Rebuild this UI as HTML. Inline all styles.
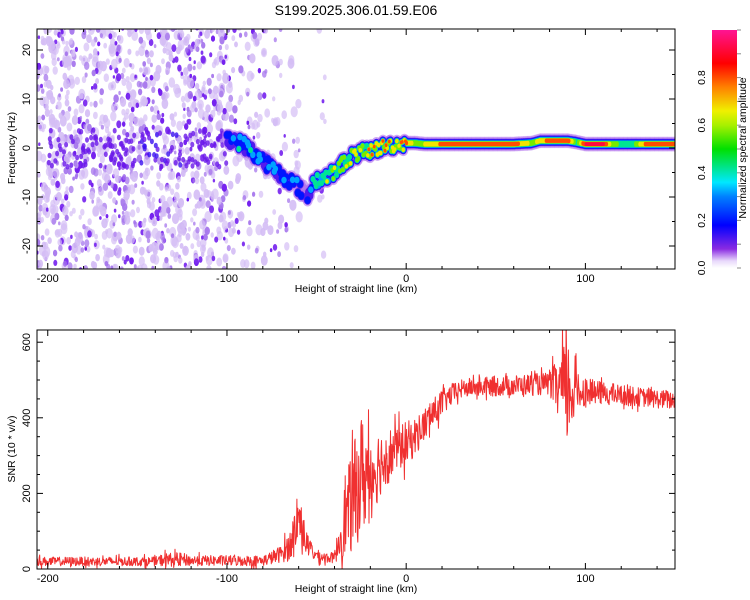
<!DOCTYPE html>
<html><head><meta charset="utf-8">
<style>
body{margin:0;background:#fff;width:750px;height:600px;overflow:hidden;font-family:"Liberation Sans",sans-serif}
svg{position:absolute;left:0;top:0}
text{font-family:"Liberation Sans",sans-serif;fill:#000}
</style></head>
<body>
<svg id="chart" width="750" height="600">
<defs>
<linearGradient id="cbgrad" x1="0" y1="1" x2="0" y2="0">
<stop offset="0" stop-color="#ffffff"/>
<stop offset="0.03" stop-color="#e8d8fb"/>
<stop offset="0.08" stop-color="#8a2be2"/>
<stop offset="0.18" stop-color="#0000ff"/>
<stop offset="0.3" stop-color="#0080ff"/>
<stop offset="0.36" stop-color="#00e8ff"/>
<stop offset="0.5" stop-color="#00e000"/>
<stop offset="0.6" stop-color="#a8f000"/>
<stop offset="0.66" stop-color="#f0f000"/>
<stop offset="0.76" stop-color="#ff8000"/>
<stop offset="0.86" stop-color="#ff0000"/>
<stop offset="1" stop-color="#ff1493"/>
</linearGradient>
<clipPath id="clipTop"><rect x="37" y="29" width="638" height="240"/></clipPath>
<clipPath id="clipBot"><rect x="37" y="330" width="638" height="239"/></clipPath>
</defs>
<text x="356" y="15" text-anchor="middle" font-size="14">S199.2025.306.01.59.E06</text>
<g id="topMarks" clip-path="url(#clipTop)"></g>
<g id="botMarks" clip-path="url(#clipBot)"></g>
<g id="axes"></g>
<rect x="712" y="30" width="25" height="238" fill="url(#cbgrad)"/>
</svg>
<script>
// ---- data ----
const ridgeKm  = [-100,-95,-90,-85,-80,-75,-70,-65,-60,-55,-52,-50,-45,-40,-35,-30,-25,-20,-15,-10,-5,0,5,10,20,30,40,50,60,70,75,80,90,95,100,110,115,125,135,150];
const ridgeHz  = [2,1.5,0.5,-1,-2.5,-4,-5.5,-6.5,-8,-10,-7,-6.5,-6,-5,-3,-1.5,-1,-0.5,0,0.5,0.7,1,1,0.8,0.8,0.8,0.8,0.8,0.8,1,1.5,1.5,1.5,1.2,0.8,0.8,0.8,0.8,0.8,0.8];
const ridgeAmp = [0.22,0.3,0.25,0.32,0.22,0.25,0.22,0.22,0.18,0.15,0.3,0.45,0.5,0.55,0.5,0.65,0.55,0.7,0.75,0.7,0.65,0.8,0.6,0.65,0.8,0.85,0.9,0.85,0.85,0.6,0.7,0.85,0.85,0.5,0.9,0.9,0.6,0.45,0.85,0.9];
const snrKm    = [-205,-140,-135,-125,-120,-80,-75,-70,-65,-60,-55,-50,-45,-40,-35,-30,-25,-20,-15,-10,-5,0,5,10,15,20,25,30,35,80,85,90,95,100,110,120,130,140,150];
const snrMean  = [20,20,25,25,22,22,30,40,60,140,60,35,30,30,120,180,250,250,280,300,320,330,350,380,410,440,460,475,480,490,480,470,470,470,465,460,455,450,445];
const snrNoise = [12,12,18,18,14,14,18,22,40,60,30,16,14,14,90,140,160,130,90,75,60,60,50,45,40,35,30,25,25,30,80,150,60,35,30,28,25,25,25];
const xTicks = [-200,-100,0,100];
const hzTicks = [-20,-10,0,10,20];
const snrTicks = [0,200,400,600];
const cbTicks = [0,0.2,0.4,0.6,0.8];

// ---- scales ----
const X0=37,X1=675,KM0=-206,KM1=150;
const xs = km => X0+(km-KM0)*(X1-X0)/(KM1-KM0);
const yHz = hz => 148 - hz*4.9;
const ySnr = v => 569 - v*0.378;
const yCb = v => 268 - v*238;
const NS='http://www.w3.org/2000/svg';
function mk(tag,attrs,parent){const e=document.createElementNS(NS,tag);for(const k in attrs)e.setAttribute(k,attrs[k]);parent.appendChild(e);return e;}
function interp(xa,ya,x){if(x<=xa[0])return ya[0];for(let i=1;i<xa.length;i++){if(x<=xa[i]){const t=(x-xa[i-1])/(xa[i]-xa[i-1]);return ya[i-1]+t*(ya[i]-ya[i-1]);}}return ya[ya.length-1];}
let seed=12345;function rnd(){seed=(seed*1103515245+12345)%2147483648;return seed/2147483648;}

const cmStops=[[0,'#ffffff'],[0.03,'#e8d8fb'],[0.08,'#8a2be2'],[0.18,'#0000ff'],[0.3,'#0080ff'],[0.36,'#00e8ff'],[0.5,'#00e000'],[0.6,'#a8f000'],[0.66,'#f0f000'],[0.76,'#ff8000'],[0.86,'#ff0000'],[1,'#ff1493']];
function hex(c){return [parseInt(c.substr(1,2),16),parseInt(c.substr(3,2),16),parseInt(c.substr(5,2),16)];}
function cmap(v){v=Math.max(0,Math.min(1,v));for(let i=1;i<cmStops.length;i++){if(v<=cmStops[i][0]){const t=(v-cmStops[i-1][0])/(cmStops[i][0]-cmStops[i-1][0]);const a=hex(cmStops[i-1][1]),b=hex(cmStops[i][1]);return 'rgb('+a.map((q,j)=>Math.round(q+t*(b[j]-q))).join(',')+')';}}return '#ff1493';}

// ---- top: background speckle ----
const topG=document.getElementById('topMarks');
const spk=mk('g',{},topG);


for(let i=0;i<6000;i++){
  const km=KM0+rnd()*(KM1-KM0);const hz=-25+rnd()*50;
  let dens;
  if(km<-100)dens=0.85; else if(km<-85)dens=0.4; else if(km<-60)dens=0.22; else if(km<-45)dens=0.06; else dens=0;
  if(rnd()>dens)continue;
  const r=rnd();let fill,op,rr;
  if(r<0.6){fill='#d4bdf5';op=0.7;rr=1.8+rnd()*2.2;}
  else if(r<0.85){fill='#a676ec';op=0.75;rr=1.4+rnd()*1.6;}
  else {fill='#7420ee';op=0.9;rr=1.3+rnd()*1.6;}
  const c=mk('ellipse',{cx:xs(km).toFixed(1),cy:yHz(hz).toFixed(1),rx:(rr*0.9).toFixed(1),ry:(rr*1.4).toFixed(1),fill:fill,'fill-opacity':op},spk);
  
  
}
for(let i=0;i<160;i++){
  const km=-200+rnd()*100;const hz=(rnd()-0.5)*8;
  const strong=km>-150&&km<-125&&rnd()<0.4;
  const c=mk('ellipse',{cx:xs(km).toFixed(1),cy:yHz(hz).toFixed(1),rx:2,ry:2.8,fill:strong?'#3a10f0':'#6a18ea','fill-opacity':0.8},spk);
  
  
}
// ---- top: ridge ----
const ridgeG=mk('g',{},topG);


const levels=[0.04,0.1,0.18,0.3,0.4,0.55,0.65,0.78,0.9];
const lvRy=[7.5,5.5,4.6,3.9,3.3,2.8,2.5,2.2,1.9];
const pts=[];
for(let km=ridgeKm[0];km<=KM1;km+=0.6){
  const steady=km>0;
  const jh=steady?0:(rnd()-0.5)*2.8;
  const ja=steady?0:(rnd()-0.5)*0.3;
  pts.push([km,interp(ridgeKm,ridgeHz,km)+jh,interp(ridgeKm,ridgeAmp,km)+ja,steady]);
}
levels.forEach((lv,li)=>{
  pts.forEach(p=>{
    if(p[2]<lv)return;
    const ry=p[3]?lvRy[li]:lvRy[li]*0.85;
    const rx=p[3]?1.6:Math.max(1.5,ry*0.8);
    const e=mk('ellipse',{cx:xs(p[0]).toFixed(1),cy:yHz(p[1]).toFixed(1),rx:rx.toFixed(1),ry:ry.toFixed(1),fill:cmap(lv+0.02),'fill-opacity':li===0?0.6:1},ridgeG);
    
    
  });
});

// ---- bottom: SNR line ----
const botG=document.getElementById('botMarks');
let dPath='';
for(let km=KM0,i=0;km<=KM1;km+=0.25,i++){
  const m=interp(snrKm,snrMean,km),n=interp(snrKm,snrNoise,km);
  const v=Math.max(0,m+(rnd()*2-1)*n*(rnd()<0.1?1.6:1));
  dPath+=(i?'L':'M')+xs(km).toFixed(1)+' '+ySnr(v).toFixed(1);
}
const snrLine=mk('path',{d:dPath,fill:'none',stroke:'#f03030','stroke-width':1,'stroke-linejoin':'round'},botG);



// ---- axes ----
const axG=document.getElementById('axes');
function frame(y0,y1,name){
  const r=mk('rect',{x:X0,y:y0,width:X1-X0,height:y1-y0,fill:'none',stroke:'#000','stroke-width':1},axG);
  
  
}
frame(29,269,'top-plot-frame');frame(330,569,'bottom-plot-frame');
function xAxis(y0,y1,labelY,name){
  for(let km=-200;km<=KM1;km+=20){
    const x=xs(km),maj=km%100===0,L=maj?6:3;
    mk('line',{x1:x,y1:y1,x2:x,y2:y1-L,stroke:'#000'},axG);
    mk('line',{x1:x,y1:y0,x2:x,y2:y0+L,stroke:'#000'},axG);
  }
  xTicks.forEach(t=>{const tx=mk('text',{x:xs(t),y:y1+13,'text-anchor':'middle','font-size':11},axG);tx.textContent=t;
    
    });
  const lb=mk('text',{x:356,y:labelY,'text-anchor':'middle','font-size':10.5},axG);lb.textContent='Height of straight line (km)';
  
  
}
xAxis(29,269,292,'top-x-axis-title');xAxis(330,569,592,'bottom-x-axis-title');
function yAxis(minor,min,max,f,ticks,name,title,ty){
  for(let v=min;v<=max;v+=minor){const y=f(v),maj=ticks.includes(v),L=maj?6:3;
    mk('line',{x1:X0,y1:y,x2:X0+L,y2:y,stroke:'#000'},axG);mk('line',{x1:X1,y1:y,x2:X1-L,y2:y,stroke:'#000'},axG);}
  ticks.forEach(t=>{const y=f(t);const tx=mk('text',{x:0,y:0,'text-anchor':'middle','font-size':11,transform:'translate(30,'+y+') rotate(-90)'},axG);tx.textContent=t;
    
    });
  const lb=mk('text',{x:0,y:0,'text-anchor':'middle','font-size':10.5,transform:'translate(15,'+ty+') rotate(-90)'},axG);lb.textContent=title;
  
  
}
yAxis(5,-20,20,yHz,hzTicks,'top-y-axis-title','Frequency (Hz)',148);
yAxis(50,0,600,ySnr,snrTicks,'bottom-y-axis-title','SNR (10 * v/v)',449);
for(let v=0;v<=1.0001;v+=0.1){const y=yCb(v);mk('line',{x1:737,y1:y,x2:741,y2:y,stroke:'#888'},axG);}
cbTicks.forEach(t=>{const tx=mk('text',{x:0,y:0,'text-anchor':'middle','font-size':10.5,transform:'translate(705,'+yCb(t)+') rotate(-90)'},axG);tx.textContent=t.toFixed(1);
  
  });
const cbl=mk('text',{x:0,y:0,'text-anchor':'middle','font-size':10.5,transform:'translate(746,148) rotate(-90)'},axG);cbl.textContent='Normalized spectral amplitude';


</script>
</body></html>
